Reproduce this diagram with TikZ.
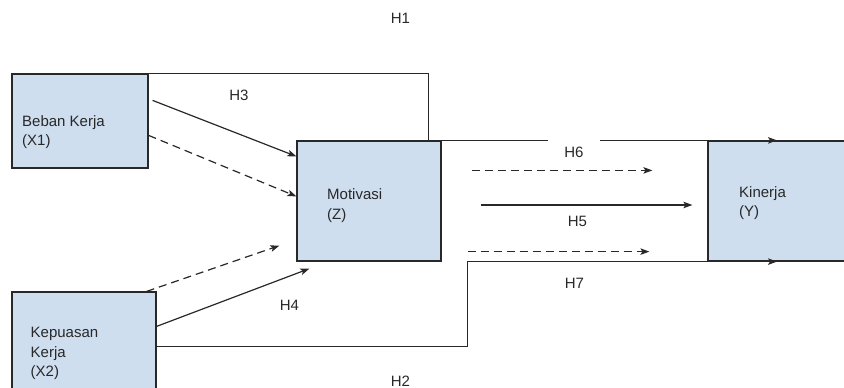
\documentclass[tikz,border=0pt]{standalone}
\usepackage{fontspec}
\setmainfont{Liberation Sans}
\usetikzlibrary{arrows.meta,calc,decorations.markings}

\definecolor{boxblue}{RGB}{207,222,239}
\definecolor{ink}{RGB}{40,40,40}

\tikzset{
  varbox/.style={draw=ink, fill=boxblue, line width=1.2pt, rectangle, inner sep=0pt},
  vartext/.style={inner sep=0pt, anchor=base west, align=left, text=ink},
  hyp/.style={text=ink, inner sep=0pt},
  conn/.style={draw=ink, line width=1.2pt, -{Stealth[length=9pt,width=6.5pt,inset=2pt]}},
  dashconn/.style={conn, dash pattern=on 8pt off 5pt},
  plainline/.style={draw=ink, line width=1.2pt},
  midarrow/.style={postaction={decorate}, decoration={markings,
      mark=at position 0.5 with {\arrow{Stealth[length=9pt,width=6.5pt,inset=2pt]}}}}
}

\begin{document}
\begin{tikzpicture}[x=1pt, y=-1pt, font=\fontsize{15}{19.5}\selectfont]
				\useasboundingbox (0,0) rectangle (844,388);
				% variables
				\node[varbox, minimum width=136pt, minimum height=94pt] (x1) at (80,121) {};
				\node[vartext] (x1t) at (22,145.5) {Beban Kerja\\(X1)};
				\node[varbox, minimum width=144pt, minimum height=120pt] (z) at (369,201) {};
				\node[vartext] (zt) at (327,219) {Motivasi\\(Z)};
				\node[varbox, minimum width=138pt, minimum height=120pt] (y) at (777,201) {};
				\node[vartext] (yt) at (739,216.5) {Kinerja\\(Y)};
				\node[varbox, minimum width=144pt, minimum height=120pt] (x2) at (84,352) {};
				\node[vartext] (x2t) at (30.5,376.5) {Kepuasan\\Kerja\\(X2)};
				%--
				\draw[plainline] (x1.north east) -| ($(z.north west)+(132,0)$) -- (y.north west);
				\draw[plainline, midarrow] (y.north west) -- (y.north east);
				\draw[plainline] ($(x2.north east)+(0,55)$) -| ($(z.south east)+(26,0)$) -- (y.south west);
				\draw[plainline, midarrow] (y.south west) -- (y.south east);
				%--
				\draw[conn] ($(x1.north east)+(4,27)$) -- ($(z.north west)+(0,16)$);
				\draw[dashconn] ($(x1.north east)+(0,62)$) -- ($(z.north west)+(0,56)$);
				\draw[dashconn] ($(x2.north east)+(-10,0)$) -- ($(z.south west)+(-17,-16)$);
				\draw[conn] ($(x2.north east)+(0,35)$) -- ($(z.south west)+(13,7)$);
				\draw[dashconn] ($(z.north east)+(30,30)$) -- ($(y.north west)+(-55,30)$);
				\draw[conn] ($(z.east)+(39,4)$) -- ($(y.west)+(-15,4)$);
				\draw[dashconn] ($(z.south east)+(26,-10)$) -- ($(y.south west)+(-58,-10)$);
				%--
				\node[hyp] (h1) at (400.5,18) {H1};
				\node[hyp] (h2) at (400.5,381) {H2};
				\node[hyp] (h3) at (239,95.5) {H3};
				\node[hyp] (h4) at (289.5,305) {H4};
				\node[hyp] (h5) at (577.5,221) {H5};
				\node[hyp, fill=white, minimum width=52pt, minimum height=24pt] (h6) at (574,152) {H6};
				\node[hyp] (h7) at (574.5,283.5) {H7};
			\end{tikzpicture}
\end{document}
